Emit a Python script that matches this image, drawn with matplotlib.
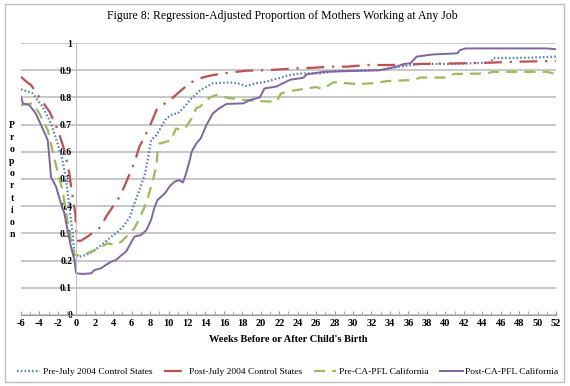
import matplotlib
matplotlib.use("Agg")
import matplotlib.pyplot as plt
from matplotlib.patches import Rectangle

plt.rcParams['font.family'] = ['Liberation Serif', 'DejaVu Serif']
plt.rcParams['axes.unicode_minus'] = False

# weeks / proportions
pre_ctrl_wk = [-6, -4.75, -3.66, -2.75, -2.03, -1.5, -1.1, -0.76, -0.4, -0.2, 0.3, 1, 1.8, 2.7, 3.6, 4.5,
               5.2, 5.8, 6.3, 6.85, 7.4, 7.75, 8.1, 8.7, 9.2, 9.75, 10.5, 11, 11.9, 12.3, 13.4, 14.8,
               16.6, 17.5, 18.4, 19.5, 20.6, 22.1, 23.2, 24.2, 26.4, 27.9, 29.3, 32.9, 35.1, 37.3,
               40.9, 44.9, 45.2, 49.2, 52]
pre_ctrl = [0.83, 0.815, 0.766, 0.705, 0.63, 0.57, 0.496, 0.398, 0.30, 0.214, 0.214, 0.22, 0.233, 0.257,
            0.282, 0.306, 0.33, 0.36, 0.41, 0.46, 0.515, 0.57, 0.643, 0.662, 0.692, 0.723, 0.739, 0.741,
            0.772, 0.79, 0.825, 0.852, 0.855, 0.852, 0.842, 0.852, 0.858, 0.872, 0.882, 0.888, 0.888,
            0.896, 0.898, 0.90, 0.913, 0.923, 0.923, 0.928, 0.944, 0.946, 0.95]

post_ctrl_wk = [-6, -5.5, -4.9, -4, -2.9, -2.0, -1.3, -0.76, -0.4, -0.1, 0, 0.1, 0.5, 1.2, 1.96, 2.7, 3.2,
                3.95, 4.5, 5.2, 5.8, 6.3, 6.85, 7.4, 8.1, 8.7, 9.6, 10.5, 11.4, 12.3, 13, 14, 14.8, 16.6,
                18.4, 20.6, 22.1, 23.9, 25.7, 27.5, 29.3, 31.5, 34, 37.3, 41.3, 45.2, 47.4, 52]
post_ctrl = [0.876, 0.86, 0.845, 0.80, 0.747, 0.68, 0.607, 0.52, 0.435, 0.37, 0.30, 0.273, 0.273, 0.288,
             0.306, 0.325, 0.36, 0.398, 0.423, 0.472, 0.52, 0.56, 0.62, 0.655, 0.705, 0.754, 0.778, 0.80,
             0.827, 0.852, 0.866, 0.876, 0.882, 0.891, 0.898, 0.90, 0.903, 0.907, 0.909, 0.913, 0.913,
             0.919, 0.919, 0.923, 0.925, 0.928, 0.931, 0.934]

pre_ca_wk = [-6, -4.75, -4, -3.1, -2.6, -2, -1.5, -1.1, -0.76, -0.4, -0.2, 0.7, 1.6, 2.5, 3.4, 4.1, 4.9,
             5.6, 6.3, 6.85, 7.4, 7.9, 8.3, 8.7, 8.8, 9.0, 9.75, 10.3, 10.8, 11.4, 11.9, 12.5, 13, 13.4,
             14.5, 15.2, 16.6, 18.4, 20.6, 21.7, 22.2, 23.5, 25, 26, 26.7, 27.9, 30.4, 32.2, 33.7, 36.6,
             37.3, 40.2, 40.9, 44.5, 45.2, 51, 52]
pre_ca = [0.772, 0.778, 0.741, 0.68, 0.607, 0.52, 0.46, 0.374, 0.30, 0.25, 0.22, 0.22, 0.233, 0.245,
          0.264, 0.257, 0.27, 0.294, 0.319, 0.355, 0.398, 0.447, 0.496, 0.55, 0.60, 0.63, 0.637, 0.643,
          0.686, 0.68, 0.692, 0.723, 0.76, 0.766, 0.80, 0.809, 0.797, 0.79, 0.785, 0.785, 0.815, 0.825,
          0.833, 0.838, 0.831, 0.856, 0.849, 0.852, 0.86, 0.864, 0.873, 0.873, 0.886, 0.888, 0.894,
          0.894, 0.886]

post_ca_wk = [-6, -5.8, -5.1, -4.4, -3.66, -3.1, -2.9, -2.75, -2.2, -1.66, -1.3, -0.95, -0.58, -0.2,
              -0.05, 0, 0.7, 1.6, 1.96, 2.7, 3.2, 3.8, 4.3, 4.9, 5.4, 5.9, 6.3, 7.0, 7.6, 8.1, 8.5, 8.8,
              9.6, 10.1, 10.65, 11.2, 11.55, 11.9, 12.3, 12.5, 13, 13.5, 14.1, 14.8, 15.5, 16.3, 18.1,
              18.8, 19.9, 20.4, 21.7, 22.4, 23.2, 24.6, 25, 26.8, 32.9, 34.7, 35.5, 36.2, 36.9, 38.7,
              41.3, 41.6, 42.2, 51, 52]
post_ca = [0.803, 0.778, 0.772, 0.741, 0.686, 0.643, 0.57, 0.508, 0.472, 0.41, 0.374, 0.312, 0.25, 0.202,
           0.16, 0.153, 0.151, 0.153, 0.165, 0.172, 0.184, 0.196, 0.202, 0.22, 0.233, 0.264, 0.288,
           0.294, 0.312, 0.349, 0.398, 0.423, 0.447, 0.472, 0.49, 0.496, 0.487, 0.52, 0.57, 0.60, 0.63,
           0.65, 0.698, 0.741, 0.76, 0.776, 0.778, 0.79, 0.80, 0.833, 0.84, 0.852, 0.865, 0.872, 0.885,
           0.894, 0.90, 0.913, 0.923, 0.925, 0.95, 0.958, 0.962, 0.974, 0.98, 0.98, 0.977]

xticks = list(range(-6, 53, 2))
yticks = [0, 0.1, 0.2, 0.3, 0.4, 0.5, 0.6, 0.7, 0.8, 0.9, 1]
ytick_labels = ['0', '0.1', '0.2', '0.3', '0.4', '0.5', '0.6', '0.7', '0.8', '0.9', '1']

fig = plt.figure(figsize=(5.7, 3.86), dpi=100)
ax = fig.add_axes([0.0368, 0.184, 0.9386, 0.7046])

ax.plot(pre_ctrl_wk, pre_ctrl, color='#4F81BD', lw=1.6, ls=(0, (0.7, 1.0)),
        label='Pre-July 2004 Control States')
ax.plot(post_ctrl_wk, post_ctrl, color='#C0504D', lw=1.6, ls=(0, (8, 3.5, 1, 3.5)),
        label='Post-July 2004 Control States')
ax.plot(pre_ca_wk, pre_ca, color='#9BBB59', lw=1.6, ls=(0, (5, 3.2)),
        label='Pre-CA-PFL California')
ax.plot(post_ca_wk, post_ca, color='#8064A2', lw=1.4, ls='-',
        label='Post-CA-PFL California')

ax.set_xlim(-6, 52)
ax.set_ylim(0, 1)
ax.set_xticks(xticks)
ax.set_xticks(range(-6, 53), minor=True)
ax.set_yticks(yticks)
ax.set_yticklabels(ytick_labels)
ax.grid(axis='y', color='#BFBFBF', lw=1.2)
ax.set_axisbelow(True)

for s in ['top', 'right']:
    ax.spines[s].set_visible(False)
ax.spines['left'].set_position(('data', 0))
ax.spines['left'].set_color('#BFBFBF')
ax.spines['bottom'].set_color('#999999')
ax.tick_params(axis='y', length=0, pad=3, labelsize=7)
ax.tick_params(axis='x', which='both', direction='in', length=3, color='#999999', labelsize=7.5, pad=3)
for t in ax.get_xticklabels() + ax.get_yticklabels():
    t.set_fontweight('bold')

ax.set_xlabel("Weeks Before or After Child's Birth", fontsize=7.5, fontweight='bold', labelpad=5)
fig.text(0.021, 0.534, '\n'.join('Proportion'), fontsize=7, fontweight='bold',
         ha='center', va='center', linespacing=1.45)

fig.suptitle('Figure 8: Regression-Adjusted Proportion of Mothers Working at Any Job',
             x=0.495, y=0.975, fontsize=8.5)

fig.legend(loc='center', bbox_to_anchor=(0.505, 0.036), ncol=4, frameon=False, fontsize=6.8,
           handlelength=2.4, columnspacing=1.2, handletextpad=0.3)

fig.patches.append(Rectangle((0.008, 0.01), 0.982, 0.98, transform=fig.transFigure,
                             fill=False, edgecolor='#BFBFBF', lw=1))

fig.savefig('out.png', dpi=100)
